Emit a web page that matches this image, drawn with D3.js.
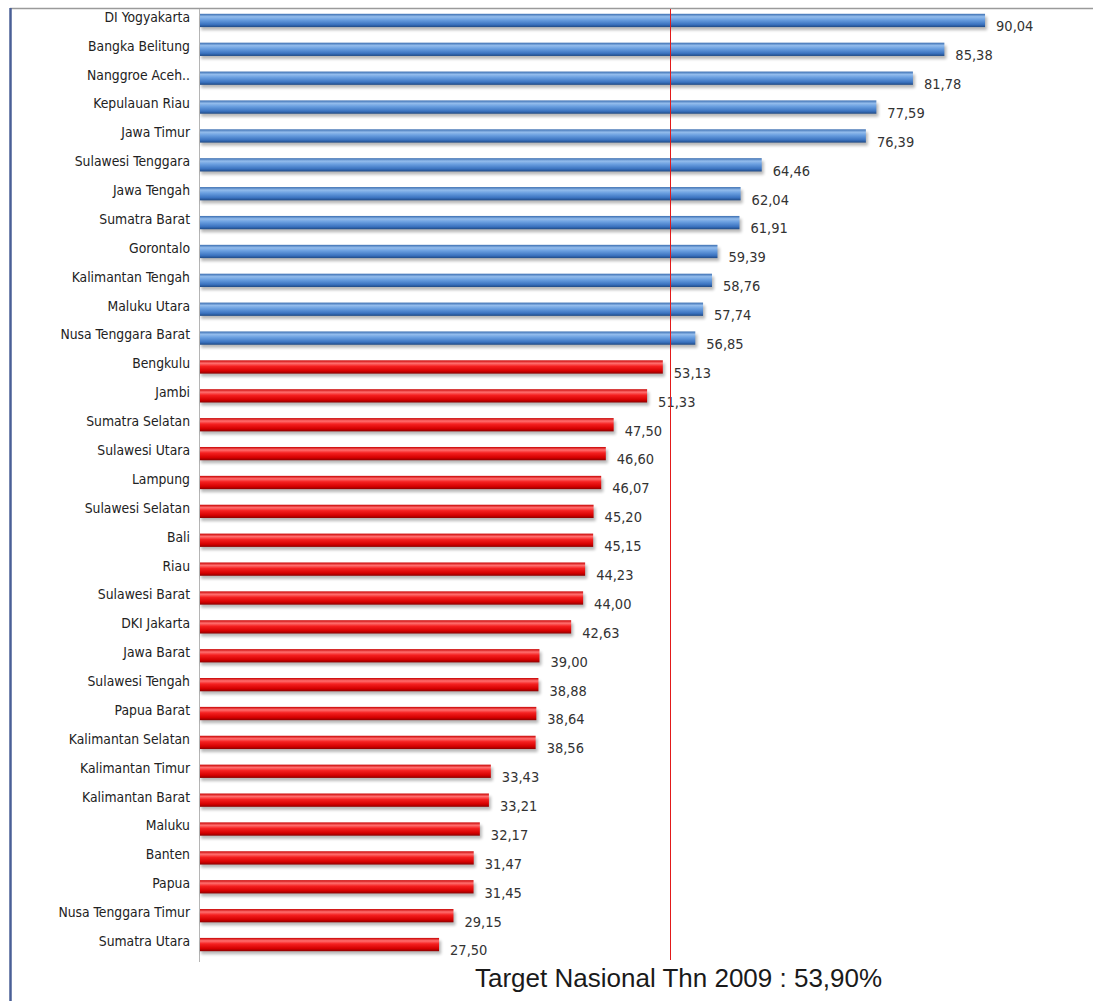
<!DOCTYPE html>
<html>
<head>
<meta charset="utf-8">
<script src="https://cdn.jsdelivr.net/npm/d3@7"></script>
<style>
  html, body { margin: 0; padding: 0; background: #fff; }
  svg { display: block; }
</style>
</head>
<body>
<svg id="chart" width="1093" height="1001"></svg>
<script>
// Provinces, ordered from highest to lowest
const provinces = [
  "DI Yogyakarta", "Bangka Belitung", "Nanggroe Aceh..", "Kepulauan Riau", "Jawa Timur",
  "Sulawesi Tenggara", "Jawa Tengah", "Sumatra Barat", "Gorontalo", "Kalimantan Tengah",
  "Maluku Utara", "Nusa Tenggara Barat", "Bengkulu", "Jambi", "Sumatra Selatan",
  "Sulawesi Utara", "Lampung", "Sulawesi Selatan", "Bali", "Riau", "Sulawesi Barat",
  "DKI Jakarta", "Jawa Barat", "Sulawesi Tengah", "Papua Barat", "Kalimantan Selatan",
  "Kalimantan Timur", "Kalimantan Barat", "Maluku", "Banten", "Papua",
  "Nusa Tenggara Timur", "Sumatra Utara"
];
// Percentage per province
const values = [
  90.04, 85.38, 81.78, 77.59, 76.39,
  64.46, 62.04, 61.91, 59.39, 58.76,
  57.74, 56.85, 53.13, 51.33, 47.50,
  46.60, 46.07, 45.20, 45.15, 44.23, 44.00,
  42.63, 39.00, 38.88, 38.64, 38.56,
  33.43, 33.21, 32.17, 31.47, 31.45,
  29.15, 27.50
];
// National target for 2009
const target = 53.90;
const targetLabel = "Target Nasional Thn 2009 : 53,90%";

const data = provinces.map((p, i) => ({ name: p, value: values[i] }));

const svg = d3.select("#chart");
const W = 1093, H = 1001;

const x = d3.scaleLinear().domain([0, 100]).range([199, 1072]);
const y = d3.scaleBand().domain(provinces).range([6, 959]).paddingInner(0.54).paddingOuter(0.27);

// Cylinder-style gradients for the two bar colours
const defs = svg.append("defs");
function cylinder(id, stops) {
  const g = defs.append("linearGradient").attr("id", id)
    .attr("x1", 0).attr("y1", 0).attr("x2", 0).attr("y2", 1);
  stops.forEach(([o, c]) => g.append("stop").attr("offset", o).attr("stop-color", c));
}
cylinder("gBlue", [[0, "#3a6db0"], [0.22, "#93bcec"], [0.45, "#6a9fe0"], [0.8, "#3b73c0"], [1, "#1f4a86"]]);
cylinder("gRed", [[0, "#c80000"], [0.22, "#ff7070"], [0.45, "#f52020"], [0.8, "#d40000"], [1, "#8c0000"]]);
const blur = defs.append("filter").attr("id", "shadow").attr("x", "-5%").attr("y", "-50%").attr("width", "110%").attr("height", "250%");
blur.append("feGaussianBlur").attr("stdDeviation", 1.4);

// Frame
svg.append("line").attr("x1", 10).attr("x2", W).attr("y1", 8.5).attr("y2", 8.5)
  .attr("stroke", "#9a9a9a").attr("stroke-width", 1.5);
svg.append("line").attr("x1", 10.5).attr("x2", 10.5).attr("y1", 8).attr("y2", H)
  .attr("stroke", "#4a5f96").attr("stroke-width", 2.5);

// Category axis line
svg.append("line").attr("x1", x(0) + 0.5).attr("x2", x(0) + 0.5).attr("y1", 9).attr("y2", 962)
  .attr("stroke", "#b5b5b5").attr("stroke-width", 1);

const rows = svg.append("g").selectAll("g").data(data).join("g")
  .attr("transform", d => `translate(0,${y(d.name)})`);

// Soft shadow under each bar
rows.append("rect")
  .attr("x", x(0) + 2).attr("y", 3)
  .attr("width", d => x(d.value) - x(0))
  .attr("height", y.bandwidth())
  .attr("fill", "#000").attr("opacity", 0.28)
  .attr("filter", "url(#shadow)");

rows.append("rect")
  .attr("x", x(0) + 1).attr("y", 0)
  .attr("width", d => x(d.value) - x(0) - 1)
  .attr("height", y.bandwidth())
  .attr("fill", d => d.value >= target ? "url(#gBlue)" : "url(#gRed)");

// Province names
rows.append("text")
  .attr("x", 190).attr("y", y.bandwidth() / 2).attr("dy", "0.1em")
  .attr("text-anchor", "end")
  .attr("font-family", "'DejaVu Sans Condensed', sans-serif")
  .attr("font-size", 13.8).attr("fill", "#222")
  .text(d => d.name);

// Value labels with comma decimals
const fmt = v => v.toFixed(2).replace(".", ",");
rows.append("text")
  .attr("x", d => x(d.value) + 11).attr("y", y.bandwidth() / 2).attr("dy", "0.75em")
  .attr("font-family", "'DejaVu Sans Condensed', sans-serif")
  .attr("font-size", 14.5).attr("fill", "#333")
  .text(d => fmt(d.value));

// Target line, snapped to a whole pixel so it stays crisp
const tx = Math.round(x(target)) + 0.5;
svg.append("line").attr("x1", tx).attr("x2", tx).attr("y1", 9).attr("y2", 960)
  .attr("stroke", "#e21a1a").attr("stroke-width", 1);

svg.append("text").attr("x", 475).attr("y", 987)
  .attr("font-family", "'Liberation Sans', Arial, sans-serif")
  .attr("font-size", 26).attr("fill", "#1a1a1a")
  .text(targetLabel);
</script>
</body>
</html>
